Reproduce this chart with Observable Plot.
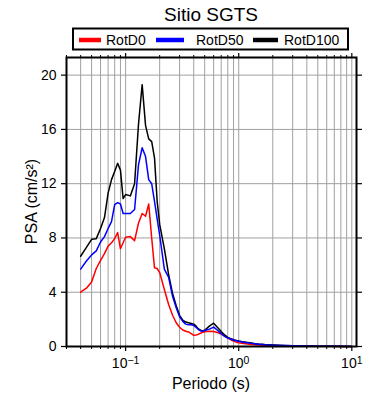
<!DOCTYPE html>
<html><head><meta charset="utf-8">
<script src="https://cdn.jsdelivr.net/npm/d3@7"></script>
<script src="https://cdn.jsdelivr.net/npm/@observablehq/plot@0.6"></script>
<style>
body{margin:0;background:#fff;font-family:"Liberation Sans",Arial,Helvetica,sans-serif}
#chart{position:relative;width:390px;height:400px}
</style>
</head><body><div id="chart"></div>
<script>
const titleText = "Sitio SGTS";
const xLabel = "Periodo (s)";
const yLabel = "PSA (cm/s²)";
const seriesNames = ["RotD0", "RotD50", "RotD100"];
const seriesColors = ["#ff0000", "#0000ff", "#000000"];

const periods = [0.04,0.045,0.05,0.055,0.06,0.065,0.07,0.075,0.08,0.085,0.09,0.095,
  0.1,0.11,0.12,0.13,0.14,0.15,0.16,0.17,0.18,0.19,0.2,
  0.22,0.24,0.26,0.28,0.3,0.32,0.34,0.36,0.38,0.4,0.42,0.44,0.46,0.48,0.5,
  0.55,0.6,0.65,0.7,0.75,0.8,0.85,0.9,0.95,1.0,
  1.1,1.2,1.3,1.4,1.5,1.7,2.0,2.5,3,4,5,6,7.5,10];

const rotD0 = [4.0,4.3,4.75,5.75,6.35,6.85,7.4,7.65,7.95,8.4,7.2,7.65,
  8.05,8.1,7.8,9.1,9.8,9.6,10.5,8.0,5.8,5.75,5.45,
  4.2,3.1,2.3,1.75,1.42,1.22,1.12,1.07,0.95,0.82,0.84,0.9,0.98,1.04,1.08,
  1.12,1.1,1.03,0.92,0.78,0.62,0.5,0.4,0.32,0.27,
  0.22,0.18,0.15,0.13,0.11,0.09,0.07,0.05,0.035,0.02,0.015,0.01,0.007,0.005];

const rotD50 = [5.7,6.3,6.75,7.05,7.7,8.1,8.7,9.2,10.45,10.6,10.5,9.8,
  9.8,9.8,10.1,13.4,14.65,14.0,12.3,12.0,10.7,9.4,8.2,
  5.7,5.1,3.7,2.85,2.2,1.85,1.65,1.6,1.6,1.55,1.4,1.25,1.15,1.13,1.18,
  1.28,1.43,1.2,0.95,0.75,0.62,0.55,0.48,0.43,0.38,
  0.32,0.27,0.23,0.2,0.17,0.13,0.1,0.07,0.05,0.03,0.02,0.015,0.01,0.007];

const rotD100 = [6.65,7.3,7.9,7.95,8.7,9.5,11.3,12.3,12.9,13.5,13.0,10.9,
  11.2,11.1,12.0,16.4,19.3,16.3,15.3,15.1,13.9,10.7,9.0,
  7.2,5.3,3.9,3.0,2.3,1.95,1.8,1.75,1.7,1.65,1.5,1.3,1.2,1.15,1.2,
  1.5,1.72,1.4,1.1,0.85,0.67,0.58,0.5,0.45,0.4,
  0.34,0.29,0.25,0.21,0.18,0.14,0.11,0.075,0.055,0.035,0.022,0.016,0.011,0.008];

const yTicks = [0, 4, 8, 12, 16, 20];
const xMajorTicks = [0.1, 1, 10];
const xMajorExponents = ["−1", "0", "1"];

const seriesValues = [rotD0, rotD50, rotD100];
const records = [0, 2, 1].flatMap(s => periods.map((p, i) => ({period: p, psa: seriesValues[s][i], series: seriesNames[s]})));

const xMinorTicks = [];
for (const base of [0.01, 0.1, 1]) for (let k = 2; k <= 9; k++) { const v = +(base * k).toPrecision(3); if (v >= 0.03 && v <= 11) xMinorTicks.push(v); }
const xGridTicks = [...xMinorTicks, ...xMajorTicks];

const expByTick = new Map(xMajorTicks.map((t, i) => [t, xMajorExponents[i]]));

const margin = {top: 57, right: 34, bottom: 54, left: 66};
const plot = Plot.plot({
  width: 390, height: 400,
  marginTop: margin.top, marginRight: margin.right, marginBottom: margin.bottom, marginLeft: margin.left,
  style: {fontFamily: '"Liberation Sans", Arial, sans-serif', fontSize: "14px", color: "black", background: "white", overflow: "visible"},
  x: {type: "log", domain: [0.03, 11]},
  y: {domain: [0, 21.3]},
  color: {domain: seriesNames, range: seriesColors},
  marks: [
    Plot.ruleX(xGridTicks, {stroke: "#a0a0a0", strokeWidth: 1}),
    Plot.ruleY(yTicks, {stroke: "#a0a0a0", strokeWidth: 1}),
    Plot.line(records, {x: "period", y: "psa", z: "series", stroke: "series", strokeWidth: 1.5, curve: "linear"}),
    Plot.frame({stroke: "black", strokeWidth: 2}),
    Plot.axisX(xMajorTicks, {anchor: "bottom", tickSize: 5, tickPadding: 7, tickFormat: d => "10^" + expByTick.get(d), label: null, stroke: "black", strokeWidth: 1.2}),
    Plot.axisX(xMinorTicks, {anchor: "bottom", tickSize: 3, tickFormat: () => "", label: null, stroke: "black"}),
    Plot.axisX(xMajorTicks, {anchor: "top", tickSize: 5, tickFormat: () => "", label: null, stroke: "black", strokeWidth: 1.2}),
    Plot.axisX(xMinorTicks, {anchor: "top", tickSize: 3, tickFormat: () => "", label: null, stroke: "black"}),
    Plot.axisY(yTicks, {anchor: "left", tickSize: 5, tickPadding: 5, label: null, stroke: "black", strokeWidth: 1.2}),
    Plot.axisY(yTicks, {anchor: "right", tickSize: 5, tickFormat: () => "", label: null, stroke: "black", strokeWidth: 1.2})
  ]
});

document.getElementById("chart").appendChild(plot);
const svg = d3.select(plot);

// superscript exponents on x tick labels
svg.selectAll("text").each(function() {
  const t = this.textContent;
  if (t.startsWith("10^")) {
    const exp = t.slice(3);
    const sel = d3.select(this);
    sel.text("");
    sel.append("tspan").text("10");
    sel.append("tspan").attr("dy", "-0.45em").attr("font-size", "10.5px").text(exp);
  }
});

const cx = margin.left + (390 - margin.left - margin.right) / 2;
const cy = margin.top + (400 - margin.top - margin.bottom) / 2;

// title
svg.append("text").attr("x", cx).attr("y", 20.5).attr("text-anchor", "middle")
  .attr("font-size", "19px").attr("fill", "black").text(titleText);

// x label
svg.append("text").attr("x", cx).attr("y", 388.5).attr("text-anchor", "middle")
  .attr("font-size", "16px").attr("fill", "black").text(xLabel);

// y label
svg.append("text").attr("transform", `translate(36.5,${cy}) rotate(-90)`).attr("text-anchor", "middle")
  .attr("font-size", "16px").attr("fill", "black").text(yLabel);

// legend
const lg = svg.append("g");
lg.append("rect").attr("x", 73).attr("y", 28.5).attr("width", 275).attr("height", 21)
  .attr("fill", "white").attr("stroke", "black").attr("stroke-width", 2);
const legendItems = [
  {x1: 79, x2: 101, tx: 106},
  {x1: 156, x2: 184, tx: 196},
  {x1: 253, x2: 278, tx: 284}
];
legendItems.forEach((it, i) => {
  lg.append("line").attr("x1", it.x1).attr("x2", it.x2).attr("y1", 40).attr("y2", 40)
    .attr("stroke", seriesColors[i]).attr("stroke-width", 4.5);
  lg.append("text").attr("x", it.tx).attr("y", 44.5).attr("text-anchor", "start")
    .attr("font-size", "14px").attr("fill", "black").text(seriesNames[i]);
});
</script>
</body></html>
